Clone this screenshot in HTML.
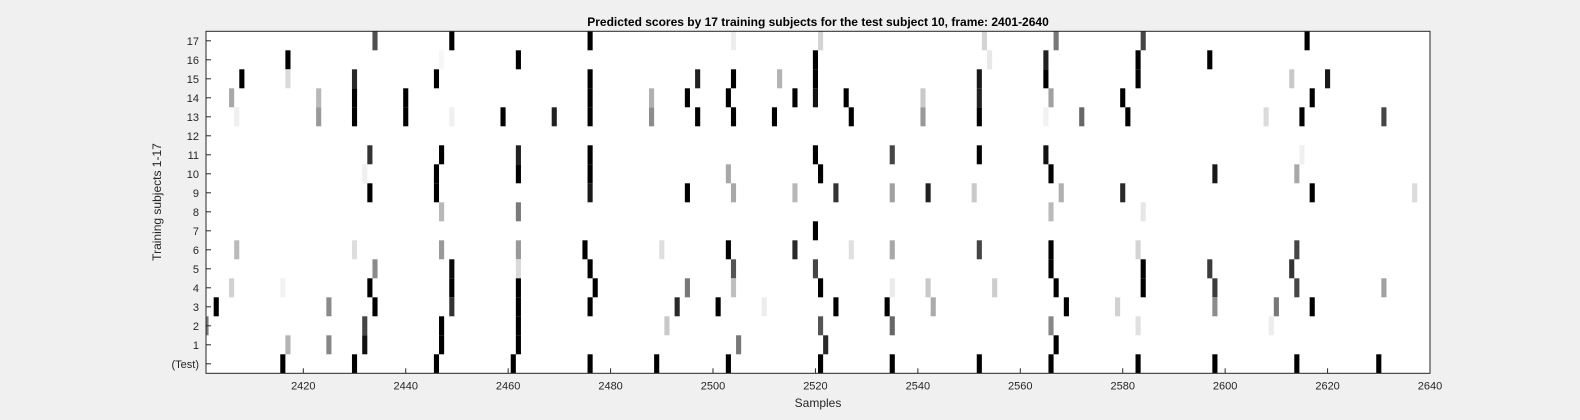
<!DOCTYPE html>
<html><head><meta charset="utf-8"><style>
html,body{margin:0;padding:0;background:#f0f0f0;}
svg{display:block;font-family:"Liberation Sans",Arial,sans-serif;}
</style></head><body>
<svg id="chart" width="1580" height="420" viewBox="0 0 1580 420" xmlns="http://www.w3.org/2000/svg">
<rect x="0" y="0" width="1580" height="420" fill="#f0f0f0"/>
<text x="818" y="26" text-anchor="middle" font-size="12" font-weight="bold" fill="#000">Predicted scores by 17 training subjects for the test subject 10, frame: 2401-2640</text>
<defs><clipPath id="plotclip"><rect x="206" y="31.3" width="1224" height="342"/></clipPath></defs>
<rect x="206" y="31.3" width="1224" height="342" fill="#fff"/>
<g id="cells" clip-path="url(#plotclip)"></g>
<g id="ticks"></g>
<rect x="206" y="31.3" width="1224" height="342" fill="none" stroke="#262626" stroke-width="1"/>
<text x="818" y="407" text-anchor="middle" font-size="12" fill="#262626">Samples</text>
<text transform="translate(161,202) rotate(-90)" text-anchor="middle" font-size="12" fill="#262626">Training subjects 1-17</text>
</svg>
<script>
const rowLabels = ["(Test)","1","2","3","4","5","6","7","8","9","10","11","12","13","14","15","16","17"];
const xTicks = [2420,2440,2460,2480,2500,2520,2540,2560,2580,2600,2620,2640];
const xDomain = [2401, 2640];
const markRow = [
17,17,17,17,17,17,17,17,17,
16,16,16,16,16,16,16,16,
15,15,15,15,15,15,15,15,15,15,15,15,15,15,
14,14,14,14,14,14,14,14,14,14,14,14,14,14,14,14,
13,13,13,13,13,13,13,13,13,13,13,13,13,13,13,13,13,13,13,13,13,
11,11,11,11,11,11,11,11,11,
10,10,10,10,10,10,10,10,10,
9,9,9,9,9,9,9,9,9,9,9,9,9,9,
8,8,8,8,
7,
6,6,6,6,6,6,6,6,6,6,6,6,6,6,
5,5,5,5,5,5,5,5,5,5,
4,4,4,4,4,4,4,4,4,4,4,4,4,4,4,4,4,
3,3,3,3,3,3,3,3,3,3,3,3,3,3,3,3,3,
2,2,2,2,2,2,2,2,2,2,
1,1,1,1,1,1,1,1,
0,0,0,0,0,0,0,0,0,0,0,0,0,0,0];
const markSample = [
2434,2449,2476,2504,2521,2553,2567,2584,2616,
2417,2447,2462,2520,2554,2565,2583,2597,
2408,2417,2430,2446,2476,2497,2504,2513,2520,2552,2565,2583,2613,2620,
2406,2423,2430,2440,2476,2488,2495,2503,2516,2520,2526,2541,2552,2566,2580,2617,
2407,2423,2430,2440,2449,2459,2469,2476,2488,2497,2504,2512,2527,2541,2552,2565,2572,2581,2608,2615,2631,
2433,2447,2462,2476,2520,2535,2552,2565,2615,
2432,2446,2462,2476,2503,2521,2566,2598,2614,
2433,2446,2476,2495,2504,2516,2524,2535,2542,2551,2568,2580,2617,2637,
2447,2462,2566,2584,
2520,
2407,2430,2447,2462,2475,2490,2503,2516,2527,2535,2552,2566,2583,2614,
2434,2449,2462,2476,2504,2520,2566,2584,2597,2613,
2406,2416,2433,2449,2462,2477,2495,2504,2521,2535,2542,2555,2567,2584,2598,2614,2631,
2403,2425,2434,2449,2462,2476,2493,2501,2510,2524,2534,2543,2569,2579,2598,2610,2617,
2401,2432,2447,2462,2491,2521,2535,2566,2583,2609,
2417,2425,2432,2447,2462,2505,2522,2567,
2416,2430,2446,2461,2476,2489,2503,2521,2535,2552,2566,2583,2598,2614,2630];
const markScore = [
.69,1,1,.07,.17,.17,.53,.73,1,
1,.03,1,1,.09,.87,1,1,
1,.15,.84,1,1,.87,1,.3,1,.9,1,1,.21,.9,
.34,.28,1,1,1,.31,1,1,1,.93,1,.21,.87,.37,1,1,
.06,.4,1,1,.06,1,.87,1,.45,1,1,1,1,.4,1,.05,.6,1,.14,1,.73,
.8,1,.87,1,1,.73,1,.93,.06,
.06,1,1,1,.34,1,1,.9,.34,
1,1,.9,1,.34,.28,.8,.37,.87,.21,.31,.84,1,.14,
.28,.52,.27,.1,
1,
.27,.13,.4,.4,1,.13,1,.84,.12,.34,.73,1,.17,.73,
.46,.96,.15,1,.67,.73,1,1,.77,.8,
.18,.05,1,1,1,1,.53,.25,1,.08,.21,.2,1,1,.77,.73,.37,
1,.46,1,.8,1,1,.84,1,.07,1,1,.33,1,.18,.45,.53,1,
.53,.73,1,1,.21,.67,.6,.47,.12,.07,
.3,.47,.93,1,1,.53,.84,1,
1,1,1,1,1,1,1,1,1,1,1,1,1,1,1];

const NS = "http://www.w3.org/2000/svg";
const plotL = 206, plotR = 1430, plotT = 31.3, plotB = 373.3;
const pxPer = (plotR - plotL) / (xDomain[1] - xDomain[0]);
const rowH = (plotB - plotT) / rowLabels.length;
function xScale(s){ return plotL + (s - xDomain[0]) * pxPer; }
function rowTop(r){ return plotB - rowH * (r + 1); }
function shade(v){ const g = Math.round(255 * (1 - v)); return "rgb(" + g + "," + g + "," + g + ")"; }

const cells = document.getElementById("cells");
for (let i = 0; i < markSample.length; i++) {
  const r = document.createElementNS(NS, "rect");
  r.setAttribute("x", (xScale(markSample[i]) - pxPer / 2).toFixed(2));
  r.setAttribute("y", rowTop(markRow[i]).toFixed(2));
  r.setAttribute("width", pxPer.toFixed(2));
  r.setAttribute("height", rowH.toFixed(2));
  r.setAttribute("fill", shade(markScore[i]));
  
  
  cells.appendChild(r);
}

const ticks = document.getElementById("ticks");
xTicks.forEach(function(t){
  const x = xScale(t);
  const ln = document.createElementNS(NS, "line");
  ln.setAttribute("x1", x); ln.setAttribute("x2", x);
  ln.setAttribute("y1", plotB); ln.setAttribute("y2", plotB - 5);
  ln.setAttribute("stroke", "#262626");
  
  
  ticks.appendChild(ln);
  const tx = document.createElementNS(NS, "text");
  tx.setAttribute("x", x); tx.setAttribute("y", plotB + 16);
  tx.setAttribute("text-anchor", "middle");
  tx.setAttribute("font-size", "11");
  tx.setAttribute("fill", "#262626");
  tx.textContent = String(t);
  
  
  ticks.appendChild(tx);
});
rowLabels.forEach(function(lab, r){
  const yc = rowTop(r) + rowH / 2;
  const ln = document.createElementNS(NS, "line");
  ln.setAttribute("x1", plotL); ln.setAttribute("x2", plotL + 5);
  ln.setAttribute("y1", yc); ln.setAttribute("y2", yc);
  ln.setAttribute("stroke", "#262626");
  
  
  ticks.appendChild(ln);
  const tx = document.createElementNS(NS, "text");
  tx.setAttribute("x", plotL - 7); tx.setAttribute("y", yc + 4);
  tx.setAttribute("text-anchor", "end");
  tx.setAttribute("font-size", "11");
  tx.setAttribute("fill", "#262626");
  tx.textContent = lab;
  
  
  ticks.appendChild(tx);
});
</script>
</body></html>
